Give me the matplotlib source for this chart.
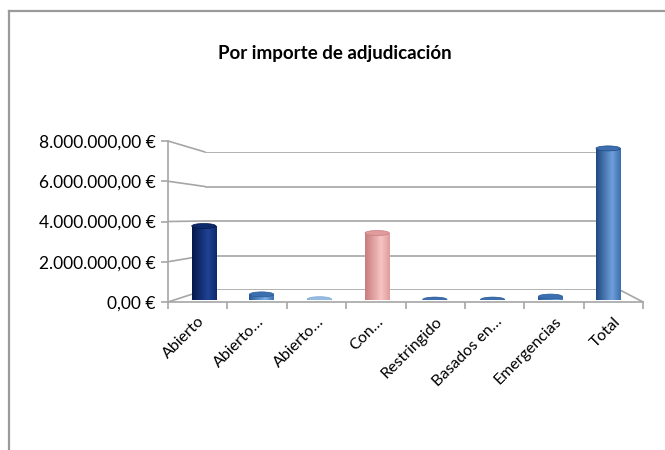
import matplotlib
matplotlib.use("Agg")
import matplotlib.pyplot as plt
import numpy as np
from matplotlib.colors import LinearSegmentedColormap
from matplotlib.patches import ConnectionPatch, Ellipse
from matplotlib.ticker import FuncFormatter

plt.rcParams["font.family"] = ["Lato", "DejaVu Sans"]

categories = ["Abierto", "Abierto…", "Abierto…", "Con…", "Restringido",
              "Basados en…", "Emergencias", "Total"]
values = [3700000, 280000, 40000, 3350000, 20000, 20000, 170000, 7580000]
y_ticks = [0, 2000000, 4000000, 6000000, 8000000]

# dark edge, light highlight, right edge per bar
bar_shades = [
    ("#06184a", "#1f4394", "#0d2a6b"),
    ("#2a5a96", "#7eaee6", "#3c6fb0"),
    ("#7fa8d6", "#c6ddf3", "#95bbe3"),
    ("#c97c7c", "#f6c4c4", "#e09c9c"),
    ("#2a5a96", "#7eaee6", "#3c6fb0"),
    ("#2a5a96", "#7eaee6", "#3c6fb0"),
    ("#2a5a96", "#7eaee6", "#3c6fb0"),
    ("#1f4a82", "#6f9fdb", "#3d6eae"),
]

W, H = 665, 450
GRID = "#a6a6a6"
YMAX = 8000000


def frac(x0, y0, x1, y1):
    # pixel box (top-left origin) -> figure fraction rect
    return [x0 / W, 1 - y1 / H, (x1 - x0) / W, (y1 - y0) / H]


def euro(v, _pos=None):
    s = f"{v:,.2f}".replace(",", "X").replace(".", ",").replace("X", ".")
    return f"{s} €"


fig = plt.figure(figsize=(6.65, 4.5), dpi=100)
fig.patch.set_facecolor("white")

# outer frame (top and left only visible)
fig.add_artist(plt.Line2D([9 / W, 9 / W], [0, 1 - 11 / H], transform=fig.transFigure,
                          color="#9a9a9a", lw=1.6))
fig.add_artist(plt.Line2D([9 / W, 1], [1 - 11 / H, 1 - 11 / H], transform=fig.transFigure,
                          color="#9a9a9a", lw=1.6))

fig.text(335 / W, 1 - 54 / H, "Por importe de adjudicación", ha="center", va="center",
         fontsize=13.5, fontweight="bold", color="black")

# back wall
axb = fig.add_axes(frac(205, 152, 620, 290))
axb.set_xlim(0, 1)
axb.set_ylim(0, YMAX)
axb.axis("off")
for t in y_ticks:
    axb.plot([0, 1], [t, t], color=GRID, lw=1.2, solid_capstyle="butt")

# front axis: y labels and category ticks
ax = fig.add_axes(frac(168, 141, 643, 302))
ax.set_xlim(0, len(categories))
ax.set_ylim(0, YMAX)
ax.patch.set_alpha(0)
for side in ["top", "right"]:
    ax.spines[side].set_visible(False)
ax.spines["left"].set_color(GRID)
ax.spines["bottom"].set_color(GRID)
ax.spines["left"].set_linewidth(1.2)
ax.spines["bottom"].set_linewidth(1.2)
ax.set_yticks(y_ticks)
ax.yaxis.set_major_formatter(FuncFormatter(euro))
ax.tick_params(axis="y", length=5, width=1.2, color=GRID, labelsize=12.5, pad=4)
ax.set_xticks(np.arange(len(categories) + 1))
ax.set_xticklabels([])
ax.set_xticks(np.arange(len(categories)) + 0.5, minor=True)
ax.set_xticklabels(categories, minor=True, rotation=45, ha="right", va="top",
                   rotation_mode="anchor", fontsize=11.5)
ax.tick_params(axis="x", which="major", length=5, width=1.2, color=GRID)
ax.tick_params(axis="x", which="minor", length=0, pad=9)

# depth lines from front to back wall
for t in y_ticks:
    fig.add_artist(ConnectionPatch(xyA=(0, t), coordsA=ax.transData,
                                   xyB=(0, t), coordsB=axb.transData,
                                   color=GRID, lw=1.2, zorder=0.5))
fig.add_artist(ConnectionPatch(xyA=(len(categories), 0), coordsA=ax.transData,
                               xyB=(1, 0), coordsB=axb.transData,
                               color=GRID, lw=1.2, zorder=0.5))

# cylinders
axc = fig.add_axes(frac(175, 140, 637, 300))
axc.set_zorder(5)
axc.patch.set_alpha(0)
axc.set_xlim(-0.5, len(categories) - 0.5)
axc.set_ylim(0, YMAX)
axc.axis("off")
bw = 0.42
cap_h = YMAX * 5 / 160
for i, (v, shades) in enumerate(zip(values, bar_shades)):
    cmap = LinearSegmentedColormap.from_list(f"c{i}", [(0, shades[0]), (0.65, shades[1]),
                                                       (1, shades[2])])
    bars = axc.bar(i, v, width=bw, color=shades[1], linewidth=0)
    grad = np.linspace(0, 1, 64).reshape(1, -1)
    im = axc.imshow(grad, cmap=cmap, aspect="auto",
                    extent=[i - bw / 2, i + bw / 2, 0, v], zorder=2)
    im.set_clip_path(bars[0])
    axc.add_patch(Ellipse((i, 0), bw, cap_h, color=shades[0], zorder=1.9, lw=0))
    axc.add_patch(Ellipse((i, v), bw, cap_h, facecolor=shades[2],
                          edgecolor=shades[0], lw=0.5, zorder=3))
axc.set_xlim(-0.5, len(categories) - 0.5)
axc.set_ylim(0, YMAX)

fig.savefig("out.png", dpi=100)
